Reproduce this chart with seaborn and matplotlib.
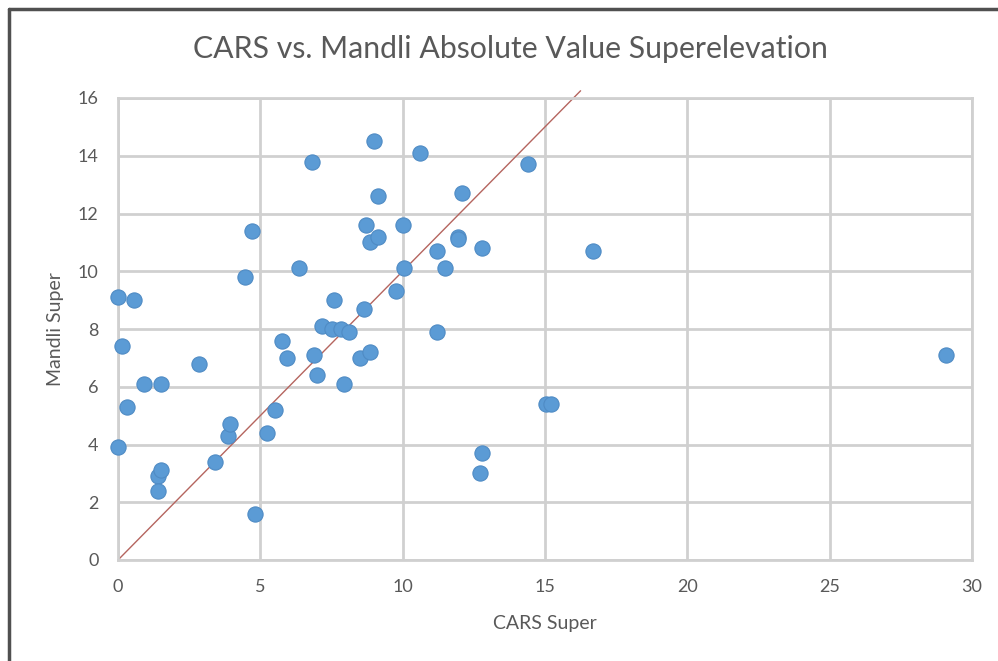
import matplotlib
matplotlib.use('Agg')
import matplotlib.pyplot as plt
from matplotlib.lines import Line2D
import numpy as np
import pandas as pd
import seaborn as sns

########### DATA ##################################
cars_super = [0.0, 0.15, 0.3, 0.0, 0.55, 0.9, 1.5, 1.4, 1.5, 1.4,
              2.85, 3.4, 3.85, 3.95, 4.45, 4.7, 4.8, 5.25, 5.5, 5.75,
              5.95, 6.35, 6.8, 6.9, 7.0, 7.15, 7.5, 7.6, 7.85, 7.95,
              8.1, 8.5, 8.65, 8.7, 8.85, 8.85, 9.0, 9.15, 9.15, 9.75,
              10.0, 10.05, 10.6, 11.2, 11.2, 11.5, 11.95, 11.95, 12.1, 12.7,
              12.8, 12.8, 14.4, 15.05, 15.2, 16.7, 29.1]
mandli_super = [9.1, 7.4, 5.3, 3.9, 9.0, 6.1, 6.1, 2.9, 3.1, 2.4,
                6.8, 3.4, 4.3, 4.7, 9.8, 11.4, 1.6, 4.4, 5.2, 7.6,
                7.0, 10.1, 13.8, 7.1, 6.4, 8.1, 8.0, 9.0, 8.0, 6.1,
                7.9, 7.0, 8.7, 11.6, 7.2, 11.0, 14.5, 12.6, 11.2, 9.3,
                11.6, 10.1, 14.1, 10.7, 7.9, 10.1, 11.2, 11.1, 12.7, 3.0,
                3.7, 10.8, 13.7, 5.4, 5.4, 10.7, 7.1]
line_x = [0, 16.25]
line_y = [0, 16.25]

df = pd.DataFrame({'cars': cars_super, 'mandli': mandli_super})

############### PLOTTING ##################
sns.set_style('white')
plt.rcParams['font.family'] = ['Lato', 'DejaVu Sans']
grey_txt = '#595959'
grid_c = '#D0D0D0'

fig = plt.figure(figsize=(9.98, 6.61), dpi=100)
ax = fig.add_axes([118/998, 1-560/661, (972-118)/998, (560-98)/661])

ax.plot(line_x, line_y, color='#B5655F', linewidth=1.0, zorder=2, clip_on=False)
sns.scatterplot(data=df, x='cars', y='mandli', ax=ax, s=120, color='#5B9BD5',
                edgecolor='#4F8BC4', linewidth=0.8, zorder=3, clip_on=False)

ax.set_xlim(0, 30)
ax.set_ylim(0, 16)
ax.set_xticks(range(0, 31, 5))
ax.set_yticks(range(0, 17, 2))
ax.grid(True, color=grid_c, linewidth=2)
ax.set_axisbelow(True)
for sp in ax.spines.values():
    sp.set_color(grid_c)
    sp.set_linewidth(2)
ax.tick_params(axis='both', length=0, labelsize=13, labelcolor=grey_txt, pad=14)

ax.set_xlabel('CARS Super', fontsize=14, color=grey_txt, labelpad=14)
ax.set_ylabel('Mandli Super', fontsize=14, color=grey_txt, labelpad=10)
fig.text(0.511, 1-49/661, 'CARS vs. Mandli Absolute Value Superelevation',
         ha='center', va='center', fontsize=21.8, color=grey_txt)

# outer border of the chart area
fig.add_artist(Line2D([9/998, 1], [1-9/661, 1-9/661], color='#505050', linewidth=2.5,
                      transform=fig.transFigure))
fig.add_artist(Line2D([9/998, 9/998], [0, 1-9/661], color='#505050', linewidth=2.5,
                      transform=fig.transFigure))

plt.savefig('out.png', dpi=100)
